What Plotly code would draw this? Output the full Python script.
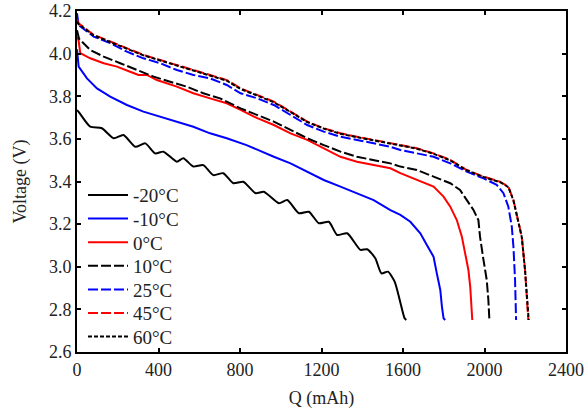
import plotly.graph_objects as go

# -20°C
q_m20 = [0, 8, 65, 122, 180, 228, 286, 335, 384, 424, 490, 522, 571, 620, 669, 718, 767, 816, 877, 917, 991, 1032, 1089, 1138, 1187, 1236, 1277, 1326, 1391, 1424, 1464, 1494, 1526, 1559, 1584, 1608, 1616]
v_m20 = [3.735, 3.727, 3.657, 3.650, 3.603, 3.618, 3.563, 3.579, 3.532, 3.540, 3.493, 3.509, 3.470, 3.477, 3.430, 3.439, 3.392, 3.399, 3.345, 3.352, 3.298, 3.313, 3.251, 3.258, 3.204, 3.211, 3.149, 3.157, 3.079, 3.082, 3.040, 2.969, 2.977, 2.930, 2.844, 2.758, 2.75]
# -10°C
q_m10 = [0, 4, 8, 49, 98, 163, 245, 326, 408, 490, 571, 653, 735, 832, 885, 966, 1048, 1130, 1211, 1293, 1374, 1456, 1538, 1587, 1636, 1685, 1717, 1750, 1766, 1783, 1791, 1799, 1807]
v_m10 = [4.02, 3.96, 3.939, 3.884, 3.837, 3.798, 3.759, 3.728, 3.704, 3.681, 3.657, 3.626, 3.603, 3.571, 3.548, 3.516, 3.485, 3.446, 3.407, 3.376, 3.345, 3.313, 3.266, 3.243, 3.211, 3.157, 3.102, 3.047, 2.969, 2.891, 2.813, 2.758, 2.75]
# 0°C
q_0 = [0, 8, 16, 65, 131, 196, 261, 302, 343, 392, 490, 571, 653, 735, 803, 885, 966, 1048, 1130, 1211, 1293, 1374, 1456, 1538, 1587, 1668, 1750, 1799, 1832, 1864, 1889, 1905, 1921, 1930, 1938, 1940]
v_0 = [4.08, 4.06, 4.002, 3.978, 3.955, 3.939, 3.915, 3.900, 3.900, 3.876, 3.845, 3.814, 3.790, 3.767, 3.736, 3.697, 3.665, 3.626, 3.595, 3.556, 3.516, 3.493, 3.477, 3.462, 3.439, 3.407, 3.376, 3.329, 3.282, 3.219, 3.141, 3.063, 2.985, 2.906, 2.813, 2.75]
# 10°C
q_10 = [0, 10, 65, 131, 212, 294, 376, 457, 539, 620, 702, 803, 885, 966, 1048, 1130, 1211, 1293, 1374, 1456, 1538, 1587, 1668, 1750, 1832, 1880, 1913, 1946, 1970, 1978, 1995, 2011, 2019, 2024]
v_10 = [4.11, 4.07, 4.017, 3.986, 3.955, 3.923, 3.892, 3.868, 3.845, 3.814, 3.790, 3.743, 3.712, 3.681, 3.642, 3.603, 3.571, 3.540, 3.516, 3.501, 3.485, 3.470, 3.454, 3.423, 3.392, 3.360, 3.313, 3.266, 3.219, 3.141, 3.032, 2.938, 2.844, 2.75]
# 25°C
q_25 = [0, 8, 82, 163, 245, 326, 408, 490, 571, 653, 735, 803, 885, 966, 1048, 1130, 1211, 1293, 1374, 1456, 1538, 1587, 1668, 1750, 1832, 1913, 1995, 2060, 2093, 2117, 2134, 2142, 2150, 2155]
v_25 = [4.19, 4.134, 4.080, 4.049, 4.009, 3.978, 3.955, 3.923, 3.900, 3.884, 3.853, 3.814, 3.790, 3.759, 3.712, 3.665, 3.634, 3.610, 3.595, 3.579, 3.563, 3.548, 3.532, 3.516, 3.485, 3.446, 3.415, 3.384, 3.345, 3.282, 3.188, 3.094, 2.938, 2.75]
# 45°C
q_45 = [0, 8, 82, 163, 245, 326, 408, 490, 571, 653, 735, 803, 885, 966, 1048, 1130, 1211, 1293, 1374, 1456, 1538, 1587, 1668, 1750, 1832, 1913, 1995, 2076, 2117, 2142, 2166, 2183, 2199, 2207, 2215]
v_45 = [4.16, 4.142, 4.088, 4.056, 4.025, 3.994, 3.970, 3.947, 3.923, 3.900, 3.876, 3.837, 3.806, 3.775, 3.728, 3.681, 3.650, 3.626, 3.610, 3.595, 3.579, 3.571, 3.556, 3.532, 3.501, 3.454, 3.423, 3.399, 3.376, 3.313, 3.219, 3.141, 2.985, 2.875, 2.75]
# 60°C
q_60 = [0, 8, 82, 163, 245, 326, 408, 490, 571, 653, 735, 803, 885, 966, 1048, 1130, 1211, 1293, 1374, 1456, 1538, 1587, 1668, 1750, 1832, 1913, 1995, 2076, 2117, 2142, 2166, 2183, 2199, 2207, 2217]
v_60 = [4.15, 4.138, 4.085, 4.053, 4.022, 3.992, 3.968, 3.944, 3.920, 3.897, 3.873, 3.834, 3.803, 3.772, 3.726, 3.679, 3.648, 3.624, 3.608, 3.593, 3.577, 3.569, 3.554, 3.530, 3.499, 3.452, 3.421, 3.397, 3.374, 3.311, 3.217, 3.139, 2.983, 2.873, 2.75]

x_ticks = [0, 400, 800, 1200, 1600, 2000, 2400]
y_ticks = [2.6, 2.8, 3.0, 3.2, 3.4, 3.6, 3.8, 4.0, 4.2]

series = [
    ("-20°C", q_m20, v_m20, "black", "solid", "spline"),
    ("-10°C", q_m10, v_m10, "#0000ff", "solid", "linear"),
    ("0°C", q_0, v_0, "#ff0000", "solid", "linear"),
    ("10°C", q_10, v_10, "black", "10px,3px", "linear"),
    ("25°C", q_25, v_25, "#0000ff", "10px,3px", "linear"),
    ("45°C", q_45, v_45, "#ff0000", "10px,3px", "linear"),
    ("60°C", q_60, v_60, "black", "4px,2px", "linear"),
]

W, H = 584, 410
ML, MR, MT, MB = 77, 18, 11, 58
plot_h = H - MT - MB
leg_fs = 19
leg_first_center = 195   # px from top of page
leg_step = 23.6
leg_top_offset = 5 + (1.3 * leg_fs + 3) / 2
FAM = "Liberation Serif, Times New Roman, Times, serif"

fig = go.Figure()
legends = {}
for i, (name, q, v, color, dash, shape) in enumerate(series):
    lname = "legend" if i == 0 else f"legend{i + 1}"
    line = dict(color=color, width=2, dash=dash, shape=shape)
    if shape == "spline":
        line["smoothing"] = 0.6
    fig.add_trace(go.Scatter(x=q, y=v, mode="lines", name=name, legend=lname, line=line))
    top_px = leg_first_center + i * leg_step - leg_top_offset
    legends[lname] = dict(
        x=6 / (W - ML - MR), y=1 - (top_px - MT) / plot_h,
        xanchor="left", yanchor="top", bgcolor="rgba(0,0,0,0)",
        font=dict(family=FAM, size=leg_fs, color="#222"),
        itemwidth=40, borderwidth=0,
    )

font = dict(family=FAM, size=18, color="#222")
axis_common = dict(showline=True, linewidth=2, linecolor="black", mirror="ticks",
                   ticks="inside", ticklen=4, tickwidth=2, tickcolor="black",
                   showgrid=False, zeroline=False, tickfont=font, automargin=False)
fig.update_layout(
    width=W, height=H,
    margin=dict(l=ML, r=MR, t=MT, b=MB),
    paper_bgcolor="white", plot_bgcolor="white",
    font=font,
    xaxis=dict(range=[0, 2400], tickvals=x_ticks, ticktext=[str(t) for t in x_ticks],
               title=dict(text="Q (mAh)", font=font, standoff=13), **axis_common),
    yaxis=dict(range=[2.6, 4.2], tickvals=y_ticks, ticktext=[f"{t:.1f}" for t in y_ticks],
               title=dict(text="Voltage (V)", font=font, standoff=18), **axis_common),
    showlegend=True,
    **legends,
)
fig.write_html("out.html", config={"displayModeBar": False},
               post_script="document.body.style.margin='0';document.body.style.overflow='hidden';")
